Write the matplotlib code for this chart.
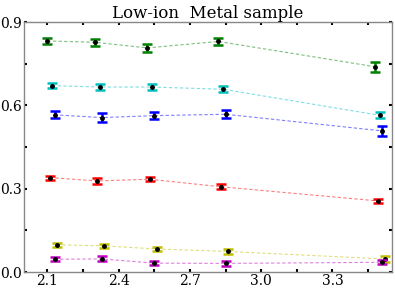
import matplotlib
matplotlib.use("Agg")
import matplotlib.pyplot as plt

title = "Low-ion  Metal sample"
xticks = [2.1, 2.4, 2.7, 3.0, 3.3]
yticks = [0.0, 0.3, 0.6, 0.9]

green_x = [2.10, 2.30, 2.52, 2.82, 3.48]
green_y = [0.832, 0.827, 0.807, 0.830, 0.739]
green_e = [0.012, 0.013, 0.014, 0.012, 0.018]

cyan_x = [2.12, 2.32, 2.54, 2.84, 3.50]
cyan_y = [0.671, 0.666, 0.666, 0.658, 0.564]
cyan_e = [0.008, 0.010, 0.010, 0.011, 0.011]

blue_x = [2.13, 2.33, 2.55, 2.85, 3.51]
blue_y = [0.566, 0.556, 0.563, 0.568, 0.508]
blue_e = [0.012, 0.016, 0.013, 0.015, 0.017]

red_x = [2.11, 2.31, 2.53, 2.83, 3.49]
red_y = [0.340, 0.328, 0.334, 0.307, 0.256]
red_e = [0.007, 0.010, 0.008, 0.009, 0.007]

yellow_x = [2.14, 2.34, 2.56, 2.86, 3.52]
yellow_y = [0.098, 0.094, 0.083, 0.074, 0.047]
yellow_e = [0.008, 0.008, 0.008, 0.009, 0.010]

magenta_x = [2.13, 2.33, 2.55, 2.85, 3.51]
magenta_y = [0.046, 0.047, 0.032, 0.031, 0.035]
magenta_e = [0.008, 0.009, 0.008, 0.009, 0.007]

series = [
    (green_x, green_y, green_e, "g"),
    (cyan_x, cyan_y, cyan_e, "c"),
    (blue_x, blue_y, blue_e, "b"),
    (red_x, red_y, red_e, "r"),
    (yellow_x, yellow_y, yellow_e, "y"),
    (magenta_x, magenta_y, magenta_e, "m"),
]

plt.rcParams["font.family"] = ["DejaVu Serif"]
fig = plt.figure(figsize=(3.95, 2.9), dpi=100)
ax = fig.add_axes([0.06, 0.062, 0.932, 0.862])

for xs, ys, es, c in series:
    ax.plot(xs, ys, linestyle="--", color=c, alpha=0.5, linewidth=0.8, dashes=(3, 2))
    ax.errorbar(xs, ys, yerr=es, fmt="none", ecolor=c, elinewidth=1.8,
                capsize=3.5, capthick=1.8)
    ax.plot(xs, ys, "o", color="black", markersize=2.5, linestyle="none")

ax.set_xlim(2.0, 3.55)
ax.set_ylim(0.0, 0.9)
ax.set_xticks(xticks)
ax.set_xticklabels([f"{v:.1f}" for v in xticks])
ax.set_yticks(yticks)
ax.set_yticklabels([f"{v:.1f}" for v in yticks])
ax.set_xticks([2.25, 2.55, 2.85, 3.15, 3.45], minor=True)
ax.set_yticks([0.15, 0.45, 0.75], minor=True)
ax.tick_params(which="both", direction="in", top=True, right=True,
               length=2, width=1.5, labelsize=10, pad=1.5)
for s in ax.spines.values():
    s.set_color("#888888")
    s.set_linewidth(1)
ax.set_title(title, fontsize=12, pad=2)

fig.savefig("out.png", dpi=100)
